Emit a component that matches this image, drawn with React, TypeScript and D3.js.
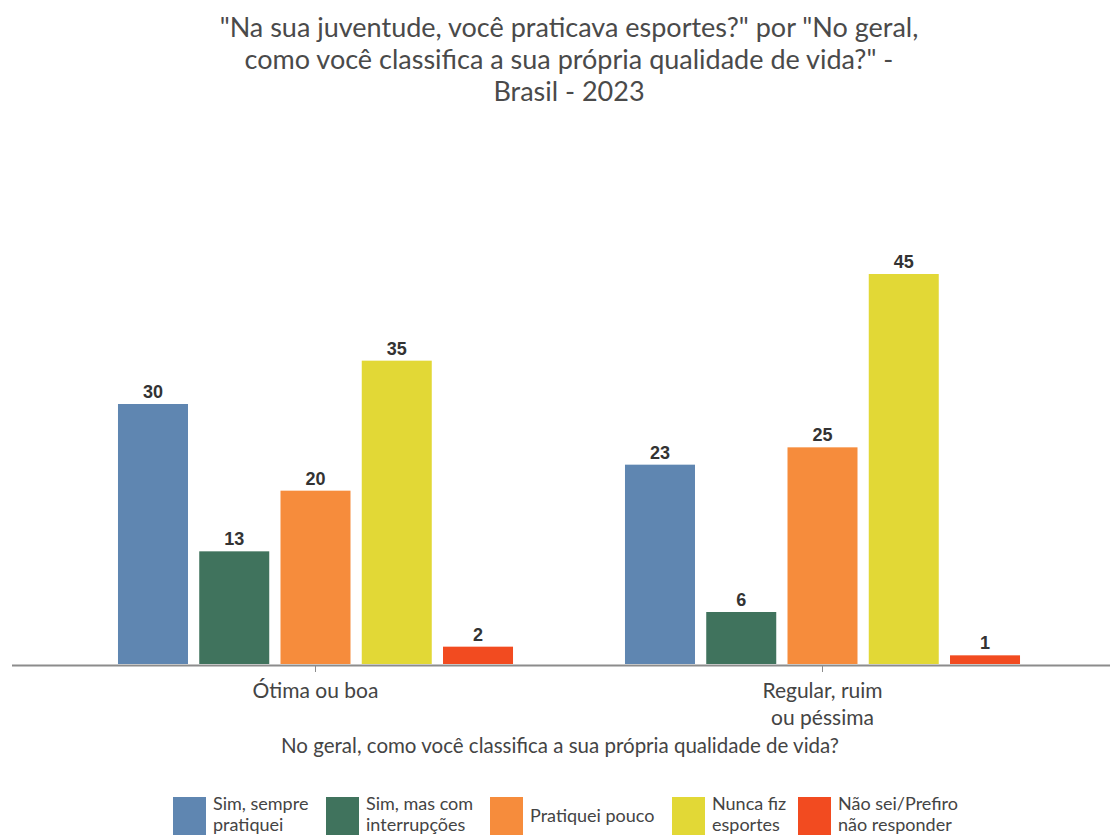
import React from "react";
import * as d3 from "d3";

const categories = ["Ótima ou boa", "Regular, ruim\nou péssima"];
const series = [
  "Sim, sempre\npratiquei",
  "Sim, mas com\ninterrupções",
  "Pratiquei pouco",
  "Nunca fiz\nesportes",
  "Não sei/Prefiro\nnão responder",
];
const colors = ["#5f86b1", "#40735d", "#f68c3c", "#e2d836", "#f24b20"];
const valuesOtima = [30, 13, 20, 35, 2];
const valuesRegular = [23, 6, 25, 45, 1];
const titleLines = [
  "\"Na sua juventude, você praticava esportes?\" por \"No geral,",
  "como você classifica a sua própria qualidade de vida?\" -",
  "Brasil - 2023",
];
const axisTitle = "No geral, como você classifica a sua própria qualidade de vida?";

const W = 1116;
const H = 837;
const FONT = "Lato, 'Open Sans', sans-serif";

export default function App() {
  const allValues = [valuesOtima, valuesRegular];
  const x0 = d3.scaleBand<string>().domain(categories).range([62, 1076]).paddingInner(0);
  const x1 = d3
    .scaleBand<string>()
    .domain(series)
    .range([0, x0.bandwidth()])
    .paddingInner(0.1385)
    .paddingOuter(0.689);
  const y = d3.scaleLinear().domain([0, 45]).range([664, 274]);

  const legendX = [173, 326, 490, 672, 798];

  return (
    <svg
      width={W}
      height={H}
      style={{ position: "absolute", left: 0, top: 0, background: "#fff" }}
    >
      <rect x={0} y={0} width={W} height={H} fill="#fff" />
      {titleLines.map((t, i) => (
        <text
          key={i}
          x={569}
          y={37 + i * 32}
          textAnchor="middle"
          fontFamily={FONT}
          fontSize={27}
          fill="#4a4a4a"
        >
          {t}
        </text>
      ))}

      {categories.map((c, ci) => (
        <g key={c} transform={`translate(${x0(c)},0)`}>
          {series.map((s, si) => {
            const v = allValues[ci][si];
            const bx = x1(s)!;
            return (
              <g key={s}>
                <rect
                  x={bx}
                  y={y(v)}
                  width={x1.bandwidth()}
                  height={y(0) - y(v)}
                  fill={colors[si]}
                />
                <text
                  x={bx + x1.bandwidth() / 2}
                  y={y(v) - 6}
                  textAnchor="middle"
                  fontFamily="'Liberation Sans', Arial, sans-serif"
                  fontWeight="bold"
                  fontSize={18}
                  fill="#333"
                >
                  {v}
                </text>
              </g>
            );
          })}
        </g>
      ))}

      <line x1={12} x2={1110} y1={665.5} y2={665.5} stroke="#8c8c8c" strokeWidth={2} />
      {categories.map((c) => {
        const cx = x0(c)! + x0.bandwidth() / 2;
        const lines = c.split("\n");
        return (
          <g key={c}>
            <line x1={cx} x2={cx} y1={666} y2={672} stroke="#8c8c8c" strokeWidth={1} />
            {lines.map((l, li) => (
              <text
                key={li}
                x={cx}
                y={698 + li * 27}
                textAnchor="middle"
                fontFamily={FONT}
                fontSize={21}
                fill="#444"
              >
                {l}
              </text>
            ))}
          </g>
        );
      })}
      <text
        x={560}
        y={753}
        textAnchor="middle"
        fontFamily={FONT}
        fontSize={20.5}
        fill="#444"
      >
        {axisTitle}
      </text>

      {series.map((s, si) => {
        const lx = legendX[si];
        const lines = s.split("\n");
        return (
          <g key={s}>
            <rect x={lx} y={797} width={33} height={38} fill={colors[si]} />
            {lines.map((l, li) => (
              <text
                key={li}
                x={lx + 40}
                y={lines.length === 1 ? 822 : 810 + li * 21}
                fontFamily={FONT}
                fontSize={18}
                fill="#444"
              >
                {l}
              </text>
            ))}
          </g>
        );
      })}
    </svg>
  );
}
